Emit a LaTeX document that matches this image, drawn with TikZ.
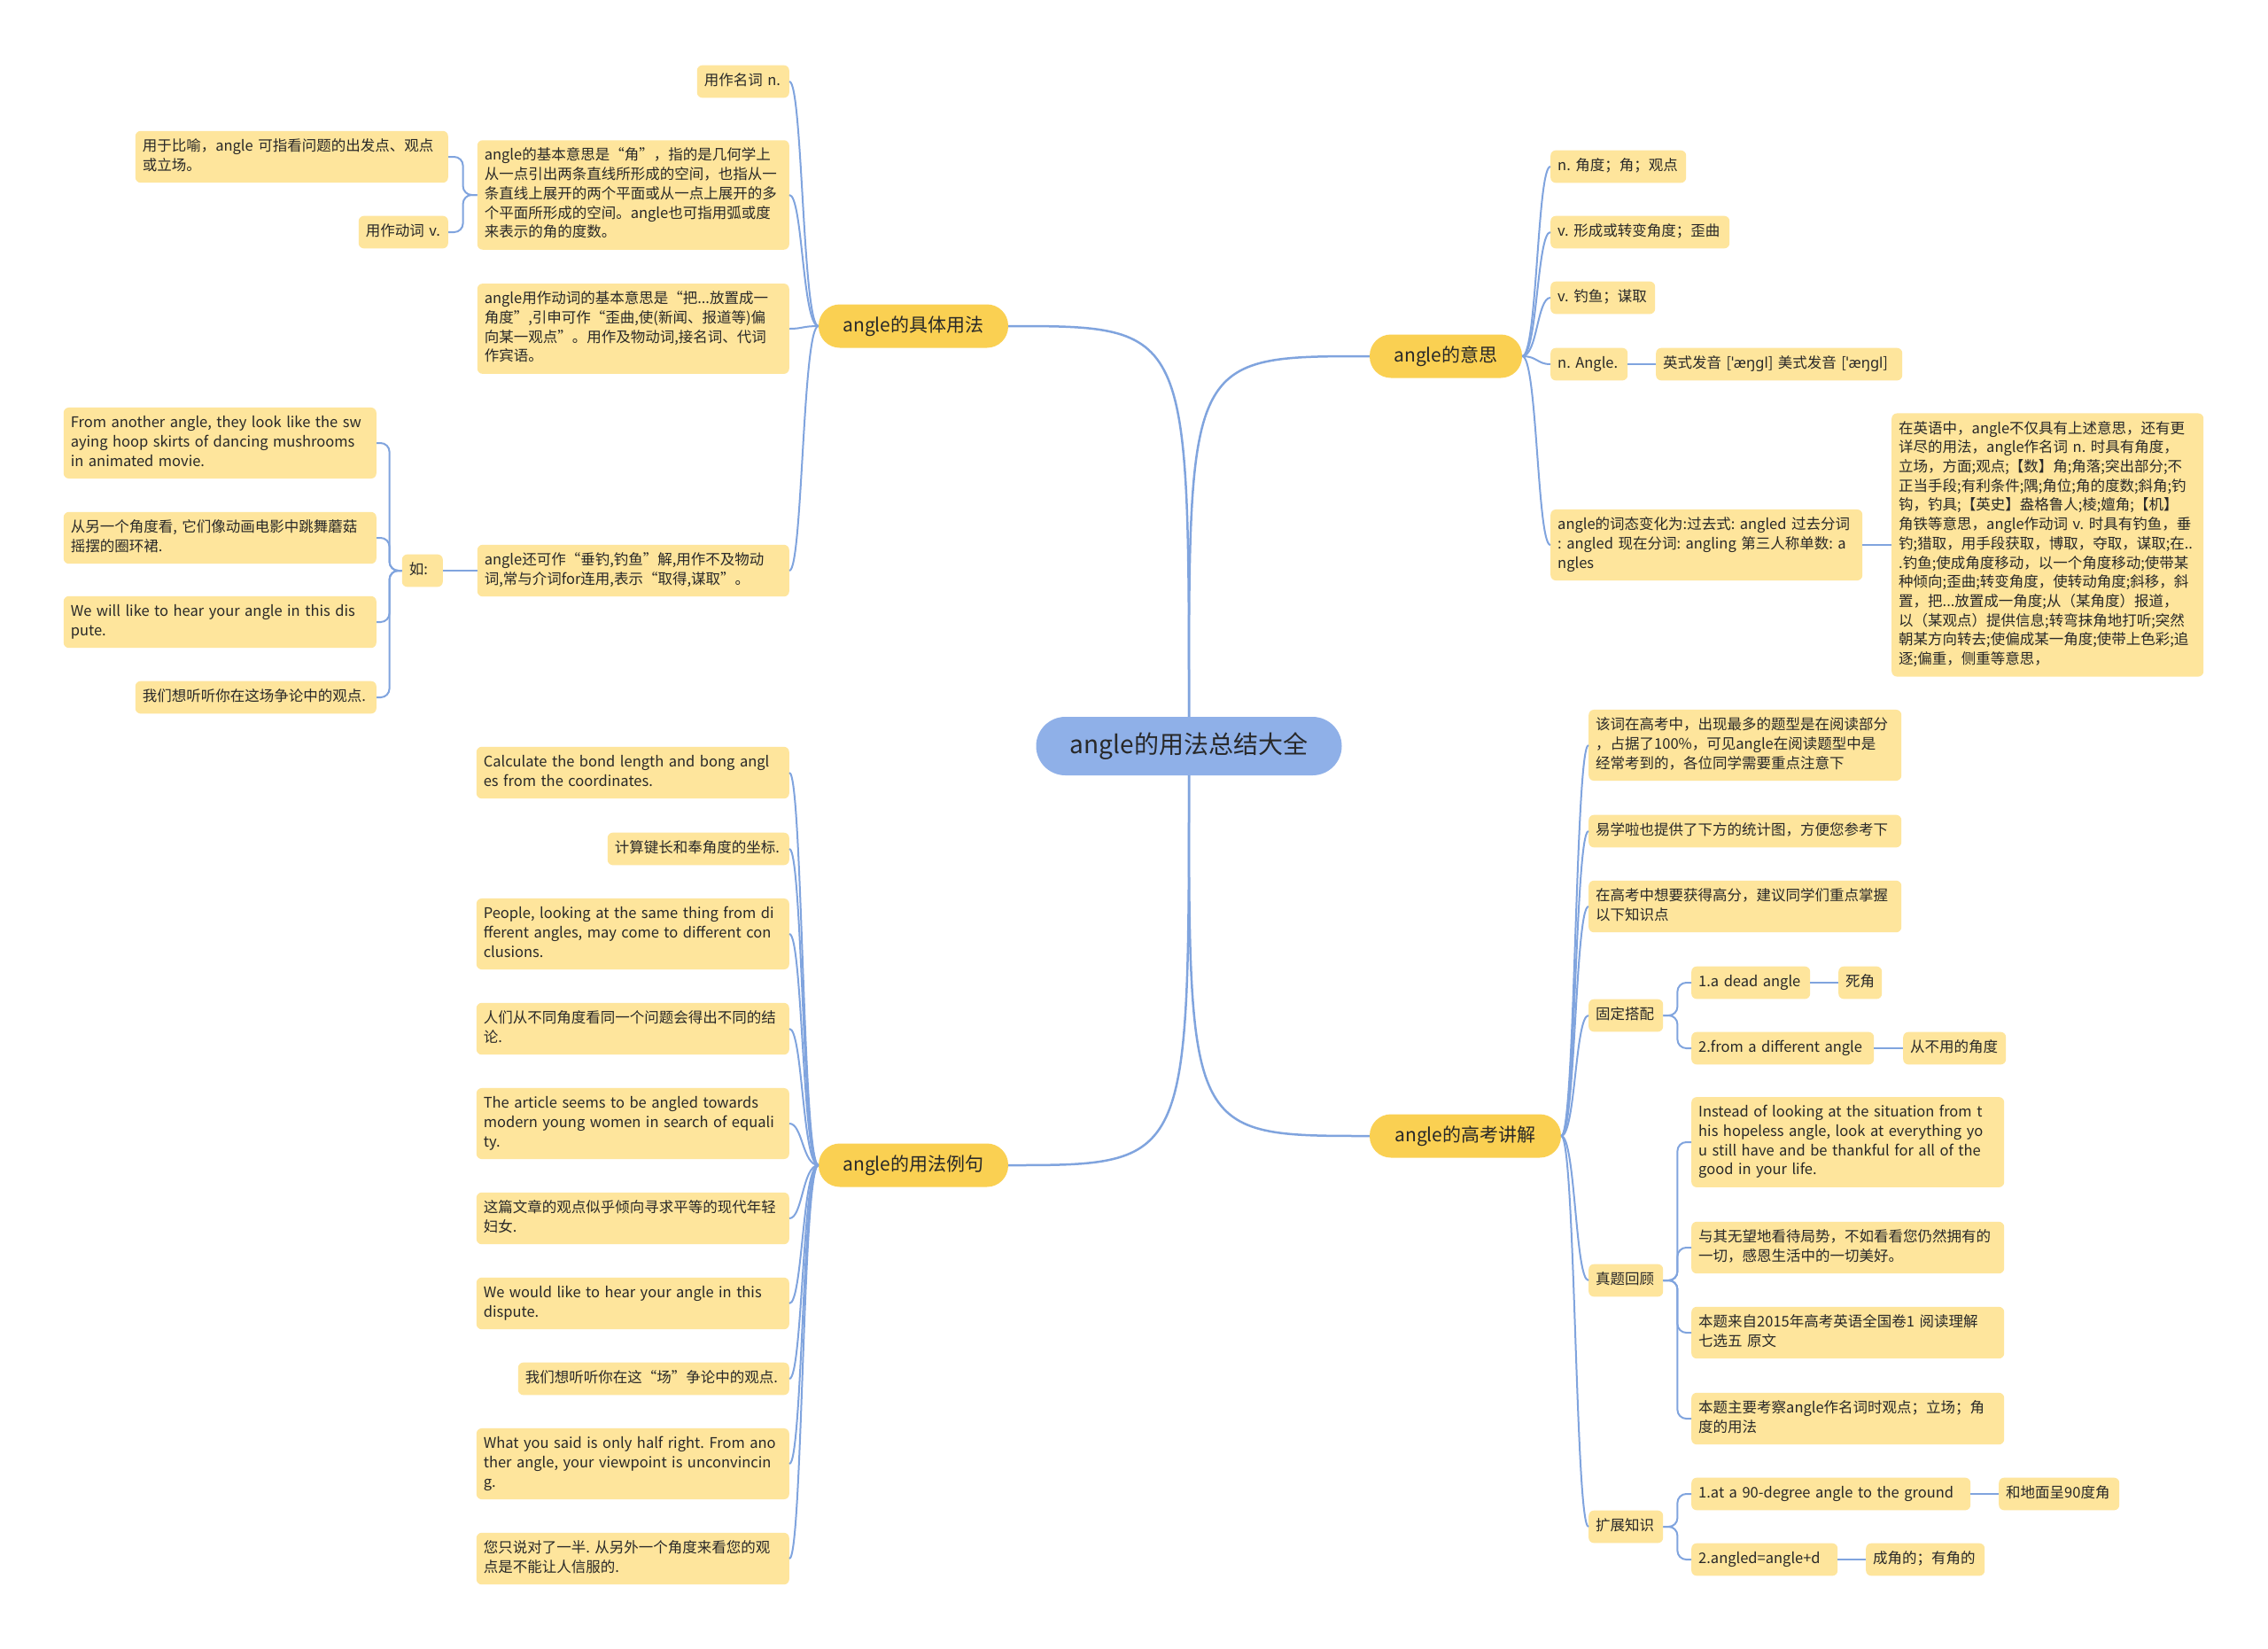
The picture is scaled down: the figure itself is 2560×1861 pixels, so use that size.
\documentclass[tikz,border=0pt]{standalone}
\usepackage{fontspec}
\setmainfont{Noto Sans CJK SC}
\newfontfamily\ipafont{Noto Sans}
\usepackage{tikz}
\usetikzlibrary{positioning, calc}
\frenchspacing
\definecolor{colRoot}{RGB}{143,176,232}
\definecolor{colBranch}{RGB}{250,208,82}
\definecolor{colLeaf}{RGB}{254,229,156}
\definecolor{colLine}{RGB}{128,164,222}
\definecolor{colText}{RGB}{40,40,40}
\newcommand{\lns}[1]{\begin{tabular}{@{}l@{}}#1\end{tabular}}
\tikzset{
  root/.style={
    fill=colRoot, rectangle, rounded corners=33pt,
    minimum width=345pt, minimum height=66pt,
    font=\fontsize{28}{32}\selectfont, text=colText
  },
  branch/.style={
    fill=colBranch, rectangle, rounded corners=24pt,
    minimum height=49pt, font=\fontsize{21}{24}\selectfont, text=colText
  },
  leaf/.style={
    fill=colLeaf, rectangle, rounded corners=6pt,
    inner xsep=8pt, inner ysep=7.5pt, align=left,
    font=\fontsize{16.5}{21.7}\selectfont, text=colText
  },
  mainlink/.style={
    draw=colLine, line width=2.5pt
  },
  link/.style={
    draw=colLine, line width=2pt
  },
  bracket/.style={
    draw=colLine, line width=2pt, rounded corners=10pt
  },
}

\begin{document}
\begin{tikzpicture}[x=1pt, y=-1pt]
\fill[white] (0,0) rectangle (2560,1861);
\useasboundingbox (0,0) rectangle (2560,1861);

% ── Nodes ──────────────────────────────────────────────────────────────────
% Centre and main branches
\node[root] (root) at (1342,842) {angle的用法总结大全};
\node[branch, minimum width=214pt] (usage)    at (1031,368)  {angle的具体用法};
\node[branch, minimum width=214pt] (examples) at (1031,1315) {angle的用法例句};
\node[branch, minimum width=172pt] (meaning)  at (1632,402)  {angle的意思};
\node[branch, minimum width=216pt] (gaokao)   at (1654,1282) {angle的高考讲解};

% Left top: angle的具体用法
\node[leaf, text width=88pt, anchor=east]  (nounuse)   at (891,92)  {\lns{用作名词 n.}};
\node[leaf, text width=336pt, anchor=east] (basic)     at (891,220) {\lns{angle的基本意思是“角”，指的是几何学上\\从一点引出两条直线所形成的空间，也指从一\\条直线上展开的两个平面或从一点上展开的多\\个平面所形成的空间。angle也可指用弧或度\\来表示的角的度数。}};
\node[leaf, text width=337pt, anchor=east] (figur)     at (506,177) {\lns{用于比喻，angle 可指看问题的出发点、观点\\或立场。}};
\node[leaf, text width=85pt, anchor=east]  (verbuse)   at (506,262) {\lns{用作动词 v.}};
\node[leaf, text width=336pt, anchor=east] (verbbasic) at (891,371) {\lns{angle用作动词的基本意思是“把...放置成一\\角度”,引申可作“歪曲,使(新闻、报道等)偏\\向某一观点”。用作及物动词,接名词、代词\\作宾语。}};
\node[leaf, text width=336pt, anchor=east] (fishing)   at (891,644) {\lns{angle还可作“垂钓,钓鱼”解,用作不及物动\\词,常与介词for连用,表示“取得,谋取”。}};
\node[leaf, text width=30pt, anchor=east]  (eg)        at (500,644) {\lns{如:}};
\node[leaf, text width=337pt, anchor=east] (egA) at (425,500) {\lns{From another angle, they look like the sw\\aying hoop skirts of dancing mushrooms\\in animated movie.}};
\node[leaf, text width=337pt, anchor=east] (egB) at (425,607) {\lns{从另一个角度看, 它们像动画电影中跳舞蘑菇\\摇摆的圈环裙.}};
\node[leaf, text width=337pt, anchor=east] (egC) at (425,702) {\lns{We will like to hear your angle in this dis\\pute.}};
\node[leaf, text width=256pt, anchor=east] (egD) at (425,787) {\lns{我们想听听你在这场争论中的观点.}};

% Left bottom: angle的用法例句
\node[leaf, text width=337pt, anchor=east] (exA) at (891,872)  {\lns{Calculate the bond length and bong angl\\es from the coordinates.}};
\node[leaf, text width=189pt, anchor=east] (exB) at (891,958)  {\lns{计算键长和奉角度的坐标.}};
\node[leaf, text width=337pt, anchor=east] (exC) at (891,1054) {\lns{People, looking at the same thing from di\\fferent angles, may come to different con\\clusions.}};
\node[leaf, text width=337pt, anchor=east] (exD) at (891,1161) {\lns{人们从不同角度看同一个问题会得出不同的结\\论.}};
\node[leaf, text width=337pt, anchor=east] (exE) at (891,1268) {\lns{The article seems to be angled towards\\modern young women in search of equali\\ty.}};
\node[leaf, text width=337pt, anchor=east] (exF) at (891,1375) {\lns{这篇文章的观点似乎倾向寻求平等的现代年轻\\妇女.}};
\node[leaf, text width=337pt, anchor=east] (exG) at (891,1471) {\lns{We would like to hear your angle in this\\dispute.}};
\node[leaf, text width=290pt, anchor=east] (exH) at (891,1556) {\lns{我们想听听你在这“场”争论中的观点.}};
\node[leaf, text width=337pt, anchor=east] (exI) at (891,1652) {\lns{What you said is only half right. From ano\\ther angle, your viewpoint is unconvincin\\g.}};
\node[leaf, text width=337pt, anchor=east] (exJ) at (891,1759) {\lns{您只说对了一半. 从另外一个角度来看您的观\\点是不能让人信服的.}};

% Right top: angle的意思
\node[leaf, text width=137pt, anchor=west] (mnA) at (1750,188) {\lns{n. 角度；角；观点}};
\node[leaf, text width=186pt, anchor=west] (mnB) at (1750,262) {\lns{v. 形成或转变角度；歪曲}};
\node[leaf, text width=102pt, anchor=west] (mnC) at (1750,336) {\lns{v. 钓鱼；谋取}};
\node[leaf, text width=71pt, anchor=west]  (mnD) at (1750,411) {\lns{n. Angle.}};
\node[leaf, text width=262pt, anchor=west] (pron) at (1869,411) {\lns{英式发音 [{\ipafont ˈæŋgl}] 美式发音 [{\ipafont ˈæŋgl}]}};
\node[leaf, text width=336pt, anchor=west] (forms) at (1750,615) {\lns{angle的词态变化为:过去式: angled 过去分词\\: angled 现在分词: angling 第三人称单数: a\\ngles}};
\node[leaf, text width=336pt, anchor=west] (detail) at (2135,615) {\lns{在英语中，angle不仅具有上述意思，还有更\\详尽的用法，angle作名词 n. 时具有角度，\\立场，方面;观点;【数】角;角落;突出部分;不\\正当手段;有利条件;隅;角位;角的度数;斜角;钓\\钩，钓具;【英史】盎格鲁人;棱;嬗角;【机】\\角铁等意思，angle作动词 v. 时具有钓鱼，垂\\钓;猎取，用手段获取，博取，夺取，谋取;在..\\.钓鱼;使成角度移动，以一个角度移动;使带某\\种倾向;歪曲;转变角度，使转动角度;斜移，斜\\置，把...放置成一角度;从（某角度）报道，\\以（某观点）提供信息;转弯抹角地打听;突然\\朝某方向转去;使偏成某一角度;使带上色彩;追\\逐;偏重，侧重等意思，}};

% Right bottom: angle的高考讲解
\node[leaf, text width=337pt, anchor=west] (gkA) at (1793,841)  {\lns{该词在高考中，出现最多的题型是在阅读部分\\，占据了100\%，可见angle在阅读题型中是\\经常考到的，各位同学需要重点注意下}};
\node[leaf, text width=337pt, anchor=west] (gkB) at (1793,938)  {\lns{易学啦也提供了下方的统计图，方便您参考下}};
\node[leaf, text width=337pt, anchor=west] (gkC) at (1793,1023) {\lns{在高考中想要获得高分，建议同学们重点掌握\\以下知识点}};
\node[leaf, text width=68pt, anchor=west]  (fixed)  at (1793,1146) {\lns{固定搭配}};
\node[leaf, text width=68pt, anchor=west]  (review) at (1793,1445) {\lns{真题回顾}};
\node[leaf, text width=68pt, anchor=west]  (extend) at (1793,1723) {\lns{扩展知识}};

\node[leaf, text width=118pt, anchor=west] (fixA)  at (1909,1109) {\lns{1.a dead angle}};
\node[leaf, text width=33pt, anchor=west]  (fixAz) at (2075,1109) {\lns{死角}};
\node[leaf, text width=190pt, anchor=west] (fixB)  at (1909,1183) {\lns{2.from a different angle}};
\node[leaf, text width=100pt, anchor=west] (fixBz) at (2148,1183) {\lns{从不用的角度}};

\node[leaf, text width=337pt, anchor=west] (revA) at (1909,1289) {\lns{Instead of looking at the situation from t\\his hopeless angle, look at everything yo\\u still have and be thankful for all of the\\good in your life.}};
\node[leaf, text width=337pt, anchor=west] (revB) at (1909,1408) {\lns{与其无望地看待局势，不如看看您仍然拥有的\\一切，感恩生活中的一切美好。}};
\node[leaf, text width=337pt, anchor=west] (revC) at (1909,1504) {\lns{本题来自2015年高考英语全国卷1 阅读理解\\七选五 原文}};
\node[leaf, text width=337pt, anchor=west] (revD) at (1909,1601) {\lns{本题主要考察angle作名词时观点；立场；角\\度的用法}};

\node[leaf, text width=299pt, anchor=west] (extA)  at (1909,1686) {\lns{1.at a 90-degree angle to the ground}};
\node[leaf, text width=120pt, anchor=west] (extAz) at (2256,1686) {\lns{和地面呈90度角}};
\node[leaf, text width=149pt, anchor=west] (extB)  at (1909,1760) {\lns{2.angled=angle+d}};
\node[leaf, text width=118pt, anchor=west] (extBz) at (2106,1760) {\lns{成角的；有角的}};

% ── Connectors ─────────────────────────────────────────────────────────────
% centre → branches
\draw[mainlink] (root.north) .. controls (root.north |- usage.east) and (root.north |- usage.east) .. (usage.east);
\draw[mainlink] (root.north) .. controls (root.north |- meaning.west) and (root.north |- meaning.west) .. (meaning.west);
\draw[mainlink] (root.south) .. controls (root.south |- examples.east) and (root.south |- examples.east) .. (examples.east);
\draw[mainlink] (root.south) .. controls (root.south |- gaokao.west) and (root.south |- gaokao.west) .. (gaokao.west);

% branch → leaves
\foreach \n in {nounuse,basic,verbbasic,fishing}
  \draw[link] (usage.west) .. controls +(-18,0) and +(15,0) .. (\n.east);
\foreach \n in {exA,exB,exC,exD,exE,exF,exG,exH,exI,exJ}
  \draw[link] (examples.west) .. controls +(-18,0) and +(15,0) .. (\n.east);
\foreach \n in {mnA,mnB,mnC,mnD,forms}
  \draw[link] (meaning.east) .. controls +(17,0) and +(-15,0) .. (\n.west);
\foreach \n in {gkA,gkB,gkC,fixed,review,extend}
  \draw[link] (gaokao.east) .. controls +(16,0) and +(-15,0) .. (\n.west);

% sub-brackets
\foreach \n in {figur,verbuse}
  \draw[bracket] (basic.west) -- ++(-16,0) |- (\n.east);
\draw[link] (fishing.west) -- (eg.east);
\foreach \n in {egA,egB,egC,egD}
  \draw[bracket] (eg.west) -- ++(-14,0) |- (\n.east);

\draw[link] (mnD.east) -- (pron.west);
\draw[link] (forms.east) -- (detail.west);

\foreach \n in {fixA,fixB}
  \draw[bracket] (fixed.east) -- ++(16,0) |- (\n.west);
\draw[link] (fixA.east) -- (fixAz.west);
\draw[link] (fixB.east) -- (fixBz.west);
\foreach \n in {revA,revB,revC,revD}
  \draw[bracket] (review.east) -- ++(16,0) |- (\n.west);
\foreach \n in {extA,extB}
  \draw[bracket] (extend.east) -- ++(16,0) |- (\n.west);
\draw[link] (extA.east) -- (extAz.west);
\draw[link] (extB.east) -- (extBz.west);

\end{tikzpicture}
\end{document}
